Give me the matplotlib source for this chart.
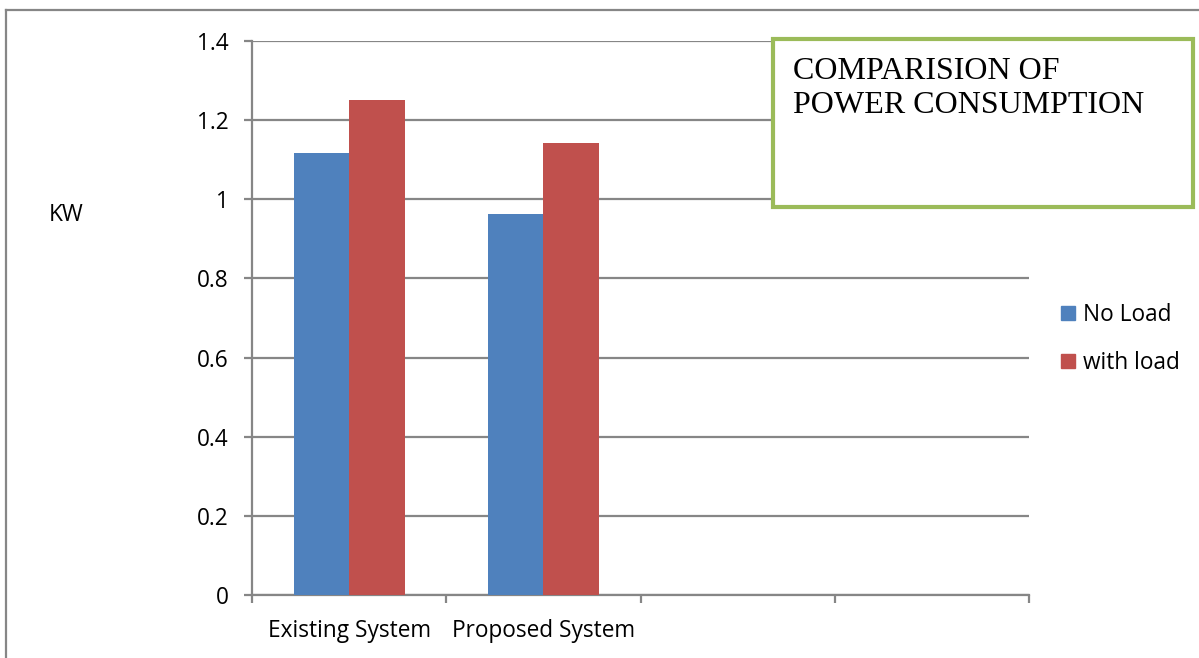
import numpy as np
import matplotlib.pyplot as plt
from matplotlib.patches import Rectangle
from matplotlib.lines import Line2D

# categories and readings in kW
categories = ["Existing System", "Proposed System", "", ""]
no_load = [1.116, 0.964]
with_load = [1.251, 1.143]
series_names = ["No Load", "with load"]
yticks = [0, 0.2, 0.4, 0.6, 0.8, 1.0, 1.2, 1.4]
ytick_labels = ["0", "0.2", "0.4", "0.6", "0.8", "1", "1.2", "1.4"]
title_lines = ["COMPARISION OF", "POWER CONSUMPTION"]

W, H = 1199, 658
fig = plt.figure(figsize=(W / 100, H / 100), dpi=100)
fig.patch.set_facecolor("white")

ax = fig.add_axes([252 / W, 1 - 595 / H, (1029 - 252) / W, (595 - 41) / H])

grey = "#868686"
blue = "#4F81BD"
red = "#C0504D"
green = "#9BBB59"
label_font = "Open Sans"
fs = 16.3

x = np.arange(len(no_load))
w = 0.2857
ax.bar(x - w / 2, no_load, w, color=blue, zorder=3, label=series_names[0])
ax.bar(x + w / 2, with_load, w, color=red, zorder=3, label=series_names[1])

ax.set_xlim(-0.5, len(categories) - 0.5)
ax.set_ylim(0, 1.4)
ax.set_yticks(yticks)
ax.set_yticklabels(ytick_labels, fontsize=fs, family=label_font)
ax.yaxis.grid(True, color=grey, lw=1.6, zorder=0)

# category boundaries get tick marks, labels sit in between
ax.set_xticks(np.arange(len(categories) + 1) - 0.5)
ax.set_xticklabels([])
ax.set_xticks(np.arange(len(categories)), minor=True)
ax.set_xticklabels(categories, minor=True, fontsize=fs, family=label_font)
ax.tick_params(axis="x", which="minor", length=0, pad=17.5)
ax.tick_params(axis="x", which="major", length=6, width=1.6, color=grey, direction="out")
ax.tick_params(axis="y", length=6, width=1.6, color=grey, pad=11)

for side in ["top", "right"]:
    ax.spines[side].set_visible(False)
for side in ["left", "bottom"]:
    ax.spines[side].set_color(grey)
    ax.spines[side].set_linewidth(1.6)

fig.text(66 / W, 1 - 215 / H, "KW", fontsize=fs, family=label_font, ha="center", va="center")

handles = [Rectangle((0, 0), 1, 1, color=blue), Rectangle((0, 0), 1, 1, color=red)]
fig.legend(handles, series_names, loc="center left", bbox_to_anchor=(1041 / W, 1 - 339 / H),
           frameon=False, prop={"family": label_font, "size": fs},
           handlelength=0.6, handleheight=0.6, handletextpad=0.35, labelspacing=1.05)

# title box
fig.patches.append(Rectangle((773 / W, 1 - 207 / H), (1193 - 773) / W, (207 - 39) / H,
                             transform=fig.transFigure, facecolor="white", edgecolor=green,
                             lw=3, zorder=5))
for line, base in zip(title_lines, [79, 113]):
    fig.text(793 / W, 1 - base / H, line, fontsize=23, family="Liberation Serif",
             ha="left", va="baseline", zorder=6)

# outer frame lines along the top and left edges
fig.add_artist(Line2D([6 / W, 6 / W], [0, 1 - 10 / H], transform=fig.transFigure, color=grey, lw=1.6))
fig.add_artist(Line2D([6 / W, 1], [1 - 10 / H, 1 - 10 / H], transform=fig.transFigure, color=grey, lw=1.6))

fig.savefig("out.png", dpi=100)
